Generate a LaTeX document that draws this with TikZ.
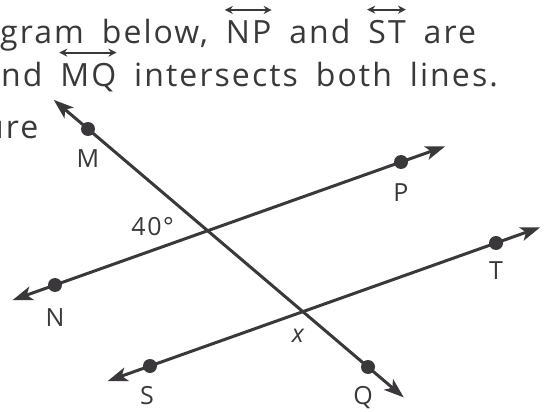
\documentclass[tikz,border=0pt]{standalone}
\usepackage{fontspec}
\setmainfont[LetterSpace=6.5]{Open Sans}
\usetikzlibrary{positioning,arrows.meta,calc}
\definecolor{ink}{RGB}{58,56,58}
\tikzset{
  txt/.style={inner sep=0pt,anchor=base west,font=\fontsize{32}{38}\selectfont,text=ink},
  lbl/.style={inner sep=0pt,font=\fontsize{25}{30}\selectfont,text=ink},
  ray/.style={draw=ink,line width=3pt,
    {Stealth[length=20pt,width=14pt,inset=5pt]}-{Stealth[length=20pt,width=14pt,inset=5pt]}},
  ovarrow/.style={draw=ink,line width=2pt,
    {Stealth[length=8pt,width=8pt]}-{Stealth[length=8pt,width=8pt]}},
  dot/.style={circle,fill=ink,inner sep=0pt,minimum size=14pt}
}
\begin{document}
\begin{tikzpicture}[x=1pt,y=-1pt,node distance=17.5pt]
  \useasboundingbox (0,0) rectangle (549,412);

  % text above the figure
  \node[txt] (gram) at (0,44) {gram};
  \node[txt,base right=of gram] (below) {below,};
  \node[txt,base right=of below] (np) {NP};
  \node[txt,base right=of np] (and) {and};
  \node[txt,base right=of and] (st) {ST};
  \node[txt,base right=of st] (are) {are};
  \node[txt] (nd) at (1,87) {nd};
  \node[txt,base right=of nd] (mq) {MQ};
  \node[txt,base right=of mq] (inter) {intersects};
  \node[txt,base right=of inter] (both) {both};
  \node[txt,base right=of both] (lines) {lines.};
  \node[txt] (ure) at (-16,138) {ure};

  \foreach \w in {np,st,mq}
    \draw[ovarrow] ([xshift=-1pt,yshift=11pt]\w.north west) -- ([xshift=0pt,yshift=11pt]\w.north east);

  % points on the lines
  \node[dot] (M) at (88,129) {};
  \node[dot] (Q) at (368,367) {};
  \node[dot] (N) at (55,285) {};
  \node[dot] (P) at (401,162) {};
  \node[dot] (S) at (150,366) {};
  \node[dot] (T) at (496,243) {};

  \coordinate (Mtip) at ($(M)!-45pt!(Q)$);
  \coordinate (Qtip) at ($(Q)!-47pt!(M)$);
  \coordinate (Ntip) at ($(N)!-45pt!(P)$);
  \coordinate (Ptip) at ($(P)!-47pt!(N)$);
  \coordinate (Stip) at ($(S)!-45pt!(T)$);
  \coordinate (Ttip) at ($(T)!-47pt!(S)$);

  \draw[ray] (Ntip) -- (Ptip);
  \draw[ray] (Stip) -- (Ttip);
  \draw[ray] (Mtip) -- (Qtip);

  \coordinate (I1) at (intersection of M.center--Q.center and N.center--P.center);
  \coordinate (I2) at (intersection of M.center--Q.center and S.center--T.center);

  % labels
  \node[lbl,below=13pt of M] (Mlbl) {M};
  \node[lbl,below=14pt of P] (Plbl) {P};
  \node[lbl,below=11pt of T] (Tlbl) {T};
  \node[lbl,below=16pt of N] (Nlbl) {N};
  \node[lbl,below=13pt of S,xshift=-3pt] (Slbl) {S};
  \node[lbl,below=12pt of Q,xshift=-5pt] (Qlbl) {Q};
  \node[lbl] (ang) at ($(I1)+(-55,-4)$) {40°};
  \node[lbl] (xlbl) at ($(I2)+(-5,24)$) {\itshape x};
\end{tikzpicture}
\end{document}
